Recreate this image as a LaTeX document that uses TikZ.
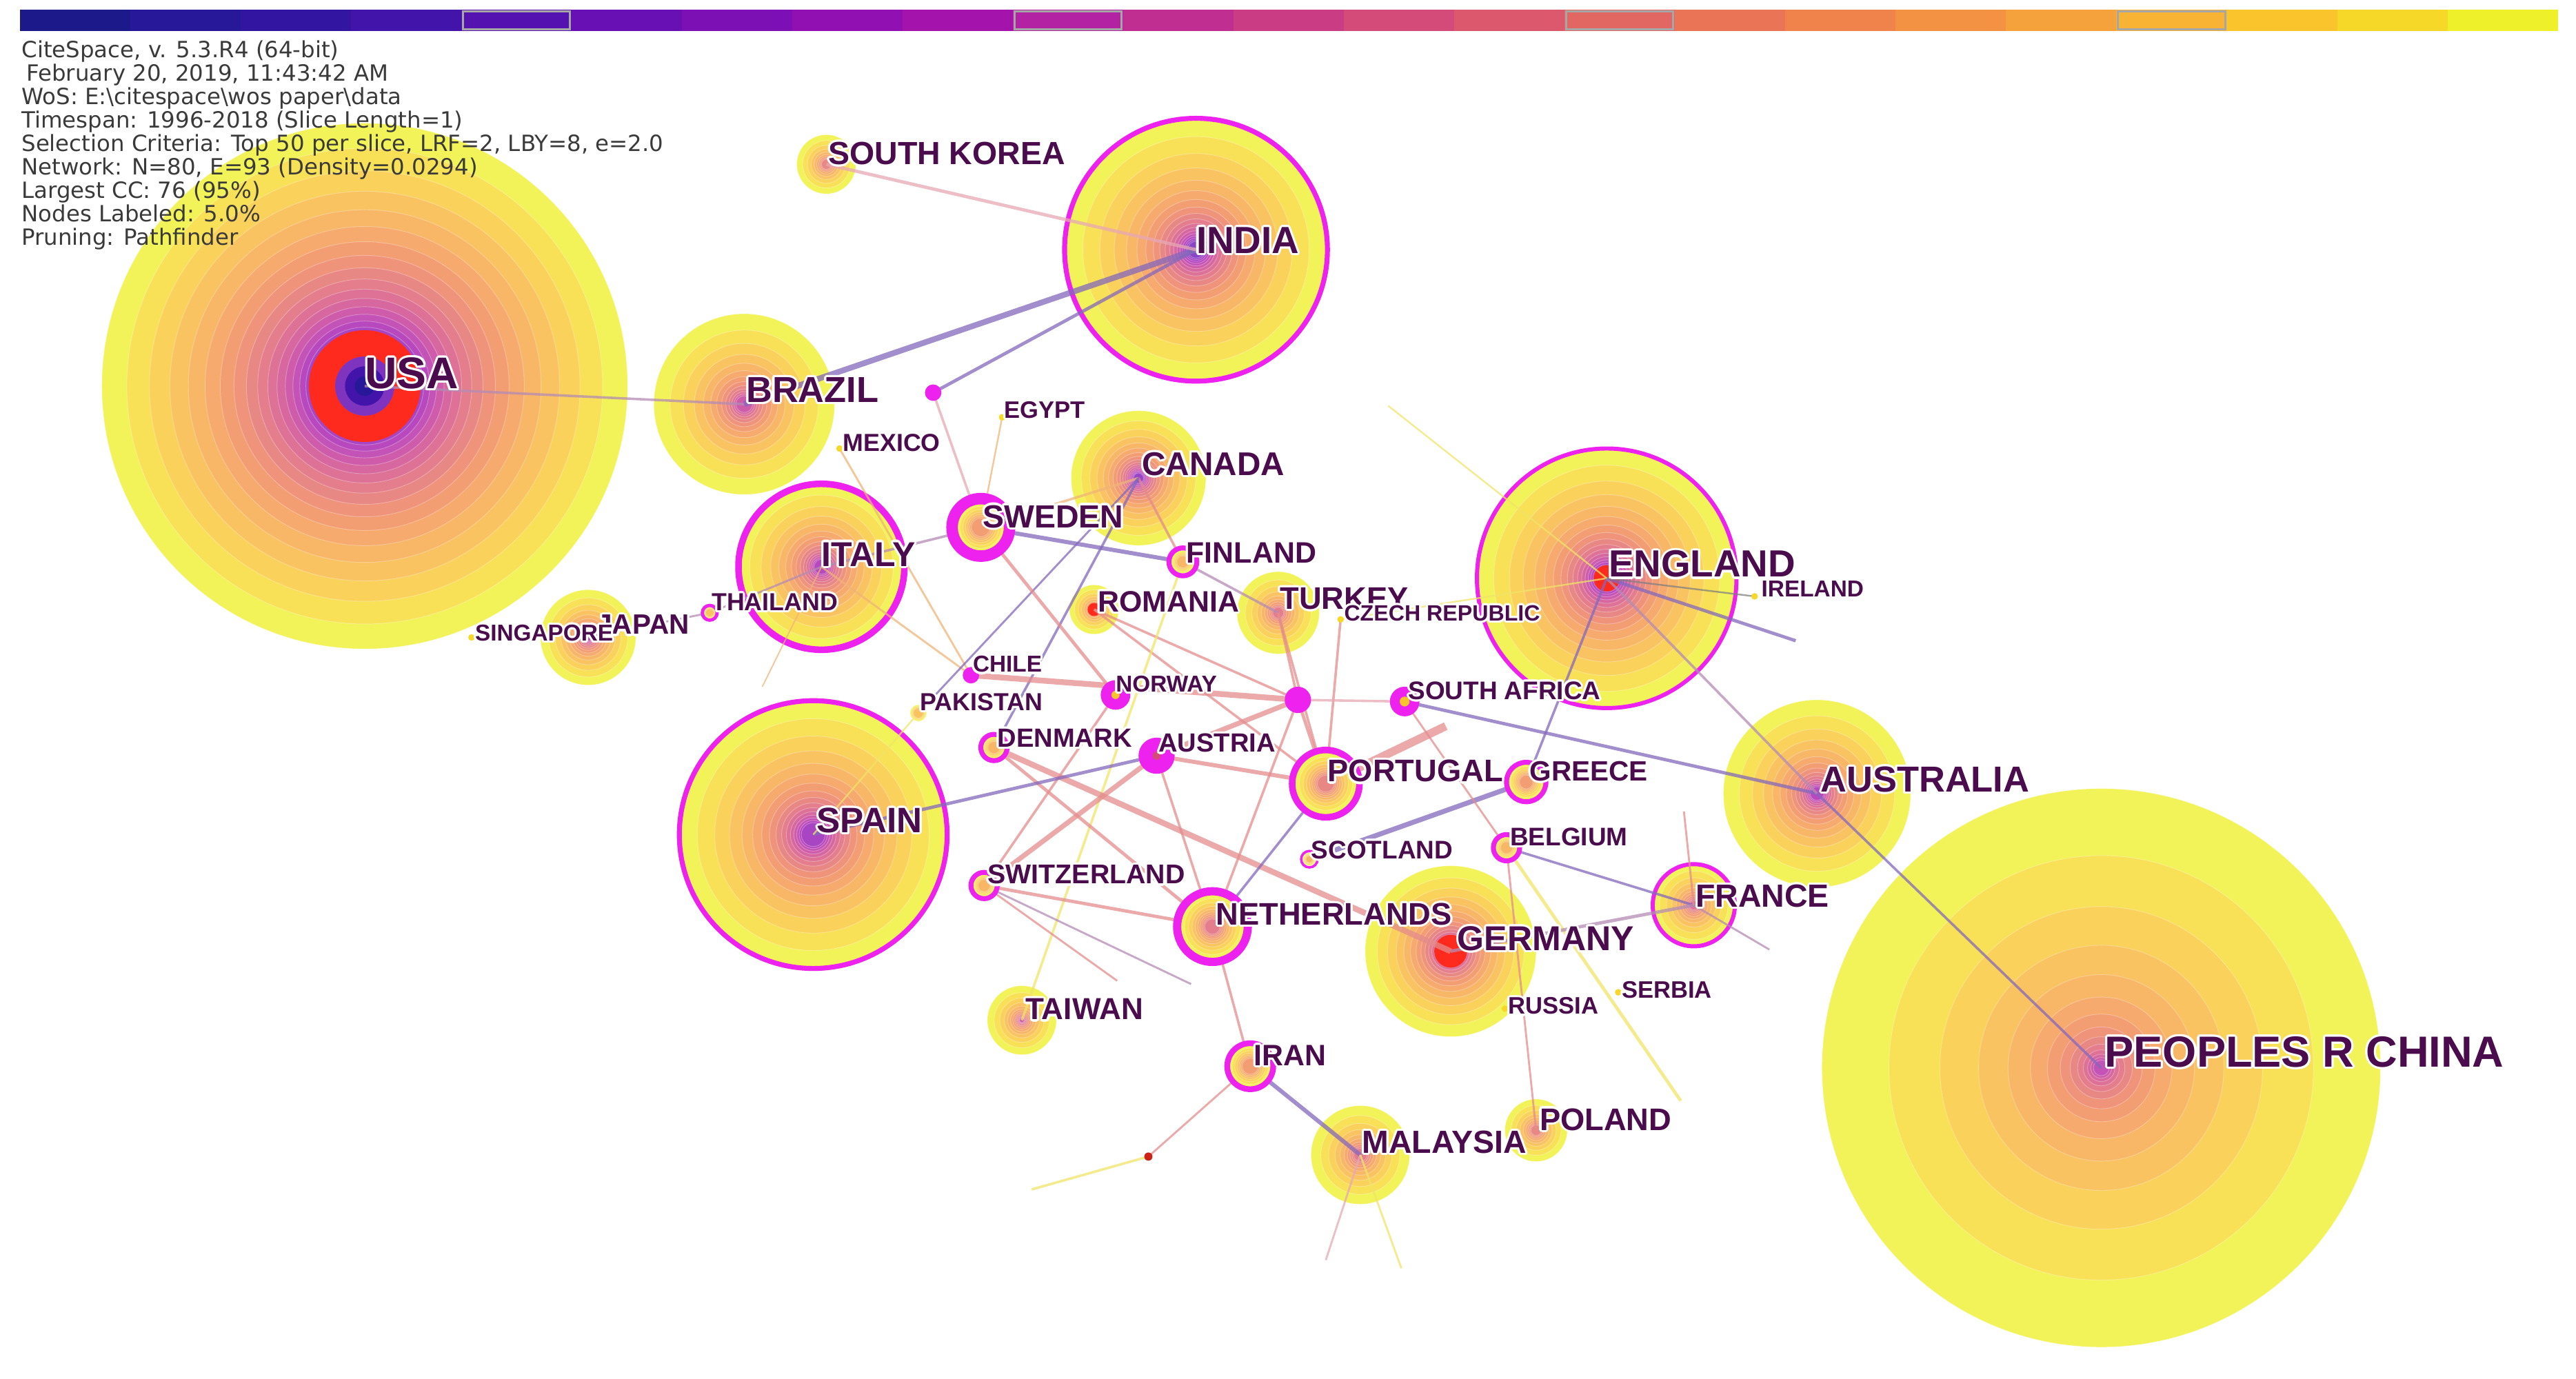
\documentclass[tikz,border=0pt]{standalone}
\usepackage{fontspec}
\setmainfont{Liberation Sans}
\newfontfamily\infofont{DejaVu Sans}
\usepackage[copies]{contour}
\contourlength{1.3pt}
\definecolor{yr0}{HTML}{1C1A8A}
\definecolor{yr1}{HTML}{261898}
\definecolor{yr2}{HTML}{3216A2}
\definecolor{yr3}{HTML}{4214AA}
\definecolor{yr4}{HTML}{5412B0}
\definecolor{yr5}{HTML}{6810B4}
\definecolor{yr6}{HTML}{7C10B4}
\definecolor{yr7}{HTML}{9010B2}
\definecolor{yr8}{HTML}{A414AC}
\definecolor{yr9}{HTML}{B222A2}
\definecolor{yr10}{HTML}{C02E92}
\definecolor{yr11}{HTML}{CA3C84}
\definecolor{yr12}{HTML}{D44A78}
\definecolor{yr13}{HTML}{DC586C}
\definecolor{yr14}{HTML}{E26662}
\definecolor{yr15}{HTML}{EA7456}
\definecolor{yr16}{HTML}{F0824C}
\definecolor{yr17}{HTML}{F49244}
\definecolor{yr18}{HTML}{F6A23C}
\definecolor{yr19}{HTML}{F8B234}
\definecolor{yr20}{HTML}{F9C42C}
\definecolor{yr21}{HTML}{F6D828}
\definecolor{yr22}{HTML}{EEF02A}
\definecolor{labtxt}{HTML}{4A0C4C}
\definecolor{infotxt}{HTML}{3A3A3A}
\definecolor{cent}{HTML}{EE22EE}
\definecolor{burst}{HTML}{FF2A1E}
\definecolor{lkpurple}{HTML}{8468BC}
\definecolor{lkmauve}{HTML}{B48CB4}
\definecolor{lksalmon}{HTML}{E48C8C}
\definecolor{lkorange}{HTML}{F0B478}
\definecolor{lkyellow}{HTML}{F0E468}
\definecolor{lkpink}{HTML}{E8A8B4}
\newcommand{\fsz}[1]{\fontsize{#1}{#1}\selectfont}
\newcommand{\halo}[1]{\contour{white}{#1}}
\newcommand{\treering}[4]{%
  \foreach \k in {22,...,#3}{%
    \pgfmathsetmacro{\rr}{#2*(#4)^(22-\k)}%
    \fill[fill=yr\k!78!white, draw=white, draw opacity=.3, line width=.4pt] (#1) circle[radius=\rr pt];
  }}
\tikzset{
  lab/.style={anchor=west, inner sep=0pt, text=labtxt, font=\bfseries\fsz{#1}},
  info/.style={anchor=base west, inner sep=0pt, text=infotxt, font=\infofont\fsz{13.6}},
  lk/.style={line width=#1, opacity=.75},
  ring/.style={draw=cent, line width=#1},
}
\begin{document}
\begin{tikzpicture}[x=1pt, y=-1pt]
\useasboundingbox (0,0) rectangle (1568,839);

\coordinate (usa) at (222,235);
\coordinate (skorea) at (503,100);
\coordinate (india) at (728,152);
\coordinate (brazil) at (453,246);
\coordinate (mexico) at (511,273);
\coordinate (egypt) at (610,254);
\coordinate (dota) at (568,239);
\coordinate (canada) at (693,291);
\coordinate (sweden) at (597,321);
\coordinate (italy) at (500,345);
\coordinate (finland) at (720,342);
\coordinate (romania) at (666,371);
\coordinate (turkey) at (778,373);
\coordinate (czech) at (816,377);
\coordinate (england) at (978,352);
\coordinate (ireland) at (1068,363);
\coordinate (japan) at (358,388);
\coordinate (singapore) at (287,388);
\coordinate (thailand) at (432,373);
\coordinate (chile) at (591,411);
\coordinate (norway) at (679,423);
\coordinate (pakistan) at (559,434);
\coordinate (dotb) at (790,426);
\coordinate (safrica) at (855,427);
\coordinate (denmark) at (605,455);
\coordinate (austria) at (704,460);
\coordinate (portugal) at (807,477);
\coordinate (greece) at (929,476);
\coordinate (australia) at (1106,483);
\coordinate (spain) at (495,508);
\coordinate (scotland) at (797,523);
\coordinate (belgium) at (917,516);
\coordinate (switzerland) at (599,539);
\coordinate (netherlands) at (738,564);
\coordinate (germany) at (883,579);
\coordinate (france) at (1031,551);
\coordinate (russia) at (916,614);
\coordinate (serbia) at (985,604);
\coordinate (taiwan) at (622,621);
\coordinate (iran) at (761,649);
\coordinate (malaysia) at (828,703);
\coordinate (poland) at (935,688);
\coordinate (china) at (1279,650);
\coordinate (reddot) at (699,704);

\coordinate (e1) at (880,442);
\coordinate (e2) at (1093,390);
\coordinate (e3) at (1077,578);
\coordinate (e4) at (1025,494);
\coordinate (e5) at (1023,670);
\coordinate (e6) at (628,724);
\coordinate (e7) at (807,767);
\coordinate (e8) at (853,772);
\coordinate (e9) at (680,597);
\coordinate (e10) at (725,599);
\coordinate (e11) at (845,247);
\coordinate (e12) at (464,418);

\treering{usa}{160}{0}{0.905}
\fill[burst, even odd rule] (usa) circle[radius=34pt] circle[radius=18pt];
\fill[yr5!85!white] (usa) circle[radius=18pt];
\fill[yr3] (usa) circle[radius=12pt];
\fill[yr1] (usa) circle[radius=6pt];
\treering{china}{170}{9}{0.76}
\treering{india}{81}{5}{0.85}
\draw[ring=3pt] (india) circle[radius=80pt];
\treering{england}{80}{4}{0.86}
\fill[burst] (england) circle[radius=8pt];
\draw[ring=2.5pt] (england) circle[radius=79pt];
\treering{spain}{83}{7}{0.85}
\draw[ring=3pt] (spain) circle[radius=81.5pt];
\treering{australia}{57}{8}{0.83}
\treering{brazil}{55}{10}{0.82}
\treering{italy}{52}{8}{0.84}
\draw[ring=4pt] (italy) circle[radius=50.5pt];
\treering{germany}{52}{6}{0.86}
\fill[burst] (germany) circle[radius=10pt];
\treering{canada}{41}{6}{0.85}
\treering{japan}{29}{8}{0.83}
\treering{turkey}{25}{13}{0.8}
\treering{france}{26}{12}{0.8}
\draw[ring=2.5pt] (france) circle[radius=25pt];
\treering{malaysia}{30}{13}{0.8}
\treering{taiwan}{21}{10}{0.8}
\treering{poland}{19}{14}{0.8}
\treering{skorea}{18}{14}{0.8}
\treering{romania}{15}{12}{0.8}
\fill[burst] (romania) circle[radius=4pt];

\draw[lk=1.5, lkmauve] (usa) -- (brazil);
\draw[lk=3.5, lkpurple] (brazil) -- (india);
\draw[lk=2, lkpurple] (dota) -- (india);
\draw[lk=2, lkpink] (skorea) -- (india);
\draw[lk=1.5, lkpink] (dota) -- (sweden);
\draw[lk=1, lkorange] (egypt) -- (sweden);
\draw[lk=1.2, lkorange] (mexico) -- (chile);
\draw[lk=1.2, lkorange] (italy) -- (chile);
\draw[lk=1.5, lkmauve] (italy) -- (sweden);
\draw[lk=1.5, lkorange] (sweden) -- (canada);
\draw[lk=2.5, lkpurple] (sweden) -- (finland);
\draw[lk=1.5, lkmauve] (finland) -- (turkey);
\draw[lk=1.5, lksalmon] (canada) -- (finland);
\draw[lk=1.5, lkpurple] (canada) -- (denmark);
\draw[lk=1.2, lkpurple] (canada) -- (pakistan);
\draw[lk=2, lksalmon] (sweden) -- (norway);
\draw[lk=1.5, lksalmon] (romania) -- (dotb);
\draw[lk=1.5, lksalmon] (romania) -- (portugal);
\draw[lk=1.5, lksalmon] (turkey) -- (dotb);
\draw[lk=1.5, lksalmon] (turkey) -- (portugal);
\draw[lk=1.5, lksalmon] (czech) -- (portugal);
\draw[lk=1, lkyellow] (czech) -- (england);
\draw[lk=3.5, lksalmon] (chile) -- (dotb);
\draw[lk=1.5, lkpink] (dotb) -- (safrica);
\draw[lk=2, lkpurple] (safrica) -- (australia);
\draw[lk=5, lksalmon] (portugal) -- (e1);
\draw[lk=2, lksalmon] (dotb) -- (portugal);
\draw[lk=3, lksalmon] (austria) -- (dotb);
\draw[lk=1.5, lksalmon] (norway) -- (switzerland);
\draw[lk=1.5, lkyellow] (finland) -- (taiwan);
\draw[lk=3.5, lksalmon] (denmark) -- (germany);
\draw[lk=2, lksalmon] (denmark) -- (netherlands);
\draw[lk=3, lksalmon] (austria) -- (switzerland);
\draw[lk=1.5, lksalmon] (austria) -- (netherlands);
\draw[lk=2.5, lksalmon] (austria) -- (portugal);
\draw[lk=2, lkpurple] (spain) -- (austria);
\draw[lk=1, lkyellow] (spain) -- (pakistan);
\draw[lk=1.5, lkpurple] (portugal) -- (netherlands);
\draw[lk=1.5, lksalmon] (dotb) -- (netherlands);
\draw[lk=3, lkpurple] (greece) -- (scotland);
\draw[lk=1.5, lkpurple] (greece) -- (england);
\draw[lk=1.2, lksalmon] (safrica) -- (belgium);
\draw[lk=1.5, lkpurple] (belgium) -- (france);
\draw[lk=1.2, lksalmon] (belgium) -- (poland);
\draw[lk=2, lkyellow] (belgium) -- (e5);
\draw[lk=2, lkmauve] (france) -- (germany);
\draw[lk=1.2, lkmauve] (france) -- (e3);
\draw[lk=1.2, lksalmon] (france) -- (e4);
\draw[lk=1.2, lksalmon] (switzerland) -- (e9);
\draw[lk=1.2, lkmauve] (switzerland) -- (e10);
\draw[lk=2, lksalmon] (switzerland) -- (netherlands);
\draw[lk=1.5, lksalmon] (netherlands) -- (iran);
\draw[lk=2.5, lkpurple] (iran) -- (malaysia);
\draw[lk=1.2, lksalmon] (iran) -- (reddot);
\draw[lk=1.5, lkyellow] (reddot) -- (e6);
\draw[lk=1.2, lkpink] (malaysia) -- (e7);
\draw[lk=1.2, lkyellow] (malaysia) -- (e8);
\draw[lk=1.5, lkmauve] (england) -- (australia);
\draw[lk=2, lkpurple] (england) -- (e2);
\draw[lk=1, gray] (england) -- (ireland);
\draw[lk=1.5, lkpurple] (australia) -- (china);
\draw[lk=1.2, lkmauve] (japan) -- (thailand);
\draw[lk=1.2, lkmauve] (thailand) -- (italy);
\draw[lk=1, lkyellow] (e11) -- (england);
\draw[lk=0.8, lkorange] (italy) -- (e12);

\treering{sweden}{15}{16}{0.85}
\draw[ring=7pt] (sweden) circle[radius=17.5pt];
\treering{finland}{7}{18}{0.85}
\draw[ring=3pt] (finland) circle[radius=8.5pt];
\treering{netherlands}{20}{13}{0.85}
\draw[ring=5pt] (netherlands) circle[radius=21.5pt];
\treering{portugal}{19}{14}{0.85}
\draw[ring=4pt] (portugal) circle[radius=20.5pt];
\treering{iran}{13}{16}{0.85}
\draw[ring=3.5pt] (iran) circle[radius=14pt];
\treering{greece}{11}{16}{0.85}
\draw[ring=3pt] (greece) circle[radius=12pt];
\treering{denmark}{7}{18}{0.85}
\draw[ring=3pt] (denmark) circle[radius=8pt];
\treering{switzerland}{7}{18}{0.85}
\draw[ring=3pt] (switzerland) circle[radius=8pt];
\treering{belgium}{7}{18}{0.85}
\draw[ring=3pt] (belgium) circle[radius=8pt];
\treering{scotland}{4}{18}{0.85}
\draw[ring=1.5pt] (scotland) circle[radius=5pt];
\treering{thailand}{4}{19}{0.85}
\draw[ring=2pt] (thailand) circle[radius=4.5pt];
\treering{pakistan}{5}{19}{0.85}
\fill[cent] (chile) circle[radius=5pt];
\fill[cent] (dota) circle[radius=5pt];
\fill[cent] (dotb) circle[radius=8pt];
\fill[cent] (norway) circle[radius=9pt];
\fill[yr20] (norway) circle[radius=2.5pt];
\fill[cent] (safrica) circle[radius=9pt];
\fill[yr20] (safrica) circle[radius=3pt];
\fill[cent] (austria) circle[radius=11pt];
\fill[yr12] (austria) circle[radius=2.5pt];
\fill[burst!80!black] (reddot) circle[radius=2.5pt];
\fill[yr21] (czech) circle[radius=2pt];
\fill[yr21] (ireland) circle[radius=2pt];
\fill[yr21] (singapore) circle[radius=2pt];
\fill[yr21] (mexico) circle[radius=2pt];
\fill[yr21] (egypt) circle[radius=2pt];
\fill[yr21] (russia) circle[radius=2pt];
\fill[yr21] (serbia) circle[radius=2pt];

\node[lab=27] (usaL) at (222,228) {\halo{USA}};
\node[lab=19.5] (skoreaL) at (504,94) {\halo{SOUTH KOREA}};
\node[lab=23] (indiaL) at (728,147) {\halo{INDIA}};
\node[lab=22] (brazilL) at (454,238) {\halo{BRAZIL}};
\node[lab=15] (mexicoL) at (513,270) {\halo{MEXICO}};
\node[lab=14.5] (egyptL) at (611,250) {\halo{EGYPT}};
\node[lab=20] (canadaL) at (695,283) {\halo{CANADA}};
\node[lab=19.5] (swedenL) at (598,315) {\halo{SWEDEN}};
\node[lab=21] (italyL) at (500,338) {\halo{ITALY}};
\node[lab=18] (finlandL) at (722,337) {\halo{FINLAND}};
\node[lab=18] (romaniaL) at (668,367) {\halo{ROMANIA}};
\node[lab=19] (turkeyL) at (779,365) {\halo{TURKEY}};
\node[lab=13.5] (czechL) at (818,374) {\halo{CZECH REPUBLIC}};
\node[lab=23] (englandL) at (979,344) {\halo{ENGLAND}};
\node[lab=14] (irelandL) at (1072,359) {\halo{IRELAND}};
\node[lab=17] (japanL) at (363,381) {\halo{JAPAN}};
\node[lab=14] (singaporeL) at (289,386) {\halo{SINGAPORE}};
\node[lab=15] (thailandL) at (433,367) {\halo{THAILAND}};
\node[lab=14] (chileL) at (592,405) {\halo{CHILE}};
\node[lab=14] (norwayL) at (679,417) {\halo{NORWAY}};
\node[lab=15] (pakistanL) at (560,428) {\halo{PAKISTAN}};
\node[lab=15.5] (safricaL) at (857,421) {\halo{SOUTH AFRICA}};
\node[lab=16] (denmarkL) at (607,450) {\halo{DENMARK}};
\node[lab=16] (austriaL) at (705,453) {\halo{AUSTRIA}};
\node[lab=19] (portugalL) at (808,470) {\halo{PORTUGAL}};
\node[lab=17] (greeceL) at (931,470) {\halo{GREECE}};
\node[lab=22] (australiaL) at (1108,475) {\halo{AUSTRALIA}};
\node[lab=21.5] (spainL) at (497,500) {\halo{SPAIN}};
\node[lab=15.5] (scotlandL) at (798,518) {\halo{SCOTLAND}};
\node[lab=15.5] (belgiumL) at (919,510) {\halo{BELGIUM}};
\node[lab=16.5] (switzerlandL) at (601,533) {\halo{SWITZERLAND}};
\node[lab=19] (netherlandsL) at (740,557) {\halo{NETHERLANDS}};
\node[lab=21] (germanyL) at (887,572) {\halo{GERMANY}};
\node[lab=19.5] (franceL) at (1032,546) {\halo{FRANCE}};
\node[lab=14.5] (russiaL) at (918,613) {\halo{RUSSIA}};
\node[lab=14.5] (serbiaL) at (987,603) {\halo{SERBIA}};
\node[lab=18.5] (taiwanL) at (624,615) {\halo{TAIWAN}};
\node[lab=18] (iranL) at (763,643) {\halo{IRAN}};
\node[lab=19.5] (malaysiaL) at (829,696) {\halo{MALAYSIA}};
\node[lab=19] (polandL) at (937,682) {\halo{POLAND}};
\node[lab=26.5] (chinaL) at (1281,641) {\halo{PEOPLES R CHINA}};

\foreach \k in {0,...,22}
  \fill[yr\k] ({12+\k*67.17},6) rectangle ({12+(\k+1)*67.17},19);
\foreach \k in {4,9,14,19}
  \draw[gray!70, line width=1.2pt] ({13+\k*67.17},7) rectangle ({11+(\k+1)*67.17},18);

\node[info] (info1) at (13,35) {CiteSpace, v. 5.3.R4 (64-bit)};
\node[info] (info2) at (16,49.25) {February 20, 2019, 11:43:42 AM};
\node[info] (info3) at (13,63.5) {WoS: E:\textbackslash citespace\textbackslash wos paper\textbackslash data};
\node[info] (info4) at (13,77.75) {Timespan: 1996-2018 (Slice Length=1)};
\node[info] (info5) at (13,92) {Selection Criteria: Top 50 per slice, LRF=2, LBY=8, e=2.0};
\node[info] (info6) at (13,106.25) {Network: N=80, E=93 (Density=0.0294)};
\node[info] (info7) at (13,120.5) {Largest CC: 76 (95\%)};
\node[info] (info8) at (13,134.75) {Nodes Labeled: 5.0\%};
\node[info] (info9) at (13,149) {Pruning: Pathfinder};
\end{tikzpicture}
\end{document}
